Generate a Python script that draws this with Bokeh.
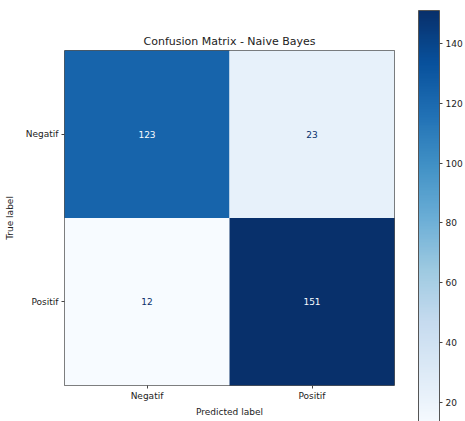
from bokeh.plotting import figure
from bokeh.models import ColumnDataSource, LinearColorMapper, ColorBar, FixedTicker, FactorRange
from bokeh.palettes import Blues256
from bokeh.embed import file_html
from bokeh.resources import INLINE

# ---- data ----
class_labels = ["Negatif", "Positif"]
row_negatif = [123, 23]   # true Negatif: predicted Negatif, Positif
row_positif = [12, 151]   # true Positif: predicted Negatif, Positif
cbar_ticks = [20, 40, 60, 80, 100, 120, 140]

rows = [row_negatif, row_positif]
xs, ys, vals = [], [], []
for t, row in zip(class_labels, rows):
    for pl, v in zip(class_labels, row):
        xs.append(pl)
        ys.append(t)
        vals.append(v)
vmin, vmax = min(vals), max(vals)
palette = list(Blues256)[::-1]
thresh = (vmin + vmax) / 2.0
txt_col = [palette[0] if v >= thresh else palette[-1] for v in vals]
src = ColumnDataSource(dict(x=xs, y=ys, v=vals, t=[str(v) for v in vals], tc=txt_col))

mapper = LinearColorMapper(palette=palette, low=vmin, high=vmax)

FONT = "DejaVu Sans"
p = figure(width=465, height=421, output_backend="svg", toolbar_location=None,
           x_range=FactorRange(*class_labels), y_range=FactorRange(*class_labels[::-1]),
           min_border_left=64, min_border_top=50, min_border_bottom=36, min_border_right=65,
           title="Confusion Matrix - Naive Bayes")
p.rect(x="x", y="y", width=1, height=1, source=src,
       fill_color={"field": "v", "transform": mapper}, line_color=None)
p.text(x="x", y="y", text="t", source=src, text_color="tc", text_align="center",
       text_baseline="middle", text_font_size="9px", text_font={"value": FONT})

p.grid.visible = False
p.outline_line_color = "#555555"
p.outline_line_width = 1
p.background_fill_color = "white"
p.border_fill_color = "white"

p.title.text_font = FONT
p.title.text_font_size = "11px"
p.title.text_font_style = "normal"
p.title.align = "center"
p.title.text_color = "#222222"
p.title.standoff = 6

for ax in (p.xaxis[0], p.yaxis[0]):
    ax.axis_line_color = None
    ax.major_tick_line_color = "#444444"
    ax.major_tick_out = 3
    ax.major_tick_in = 0
    ax.minor_tick_line_color = None
    ax.major_label_text_font = FONT
    ax.major_label_text_font_size = "9px"
    ax.major_label_text_color = "#222222"
    ax.axis_label_text_font = FONT
    ax.axis_label_text_font_size = "9px"
    ax.axis_label_text_font_style = "normal"
    ax.axis_label_text_color = "#222222"
p.xaxis.axis_label = "Predicted label"
p.yaxis.axis_label = "True label"
p.xaxis.major_label_standoff = 2
p.xaxis.axis_label_standoff = 3
p.yaxis.major_label_standoff = 3
p.yaxis.axis_label_standoff = 8

cb = ColorBar(color_mapper=mapper, ticker=FixedTicker(ticks=cbar_ticks),
              width=21, height=416, location=(24, -41), padding=0, margin=0,
              major_tick_in=0, major_tick_out=3, major_tick_line_color="#444444",
              bar_line_color="#555555", label_standoff=3,
              major_label_text_font=FONT, major_label_text_font_size="9px",
              major_label_text_color="#222222", background_fill_color=None,
              border_line_color=None)
p.add_layout(cb, "right")

open("out.html", "w").write(file_html(p, INLINE))
